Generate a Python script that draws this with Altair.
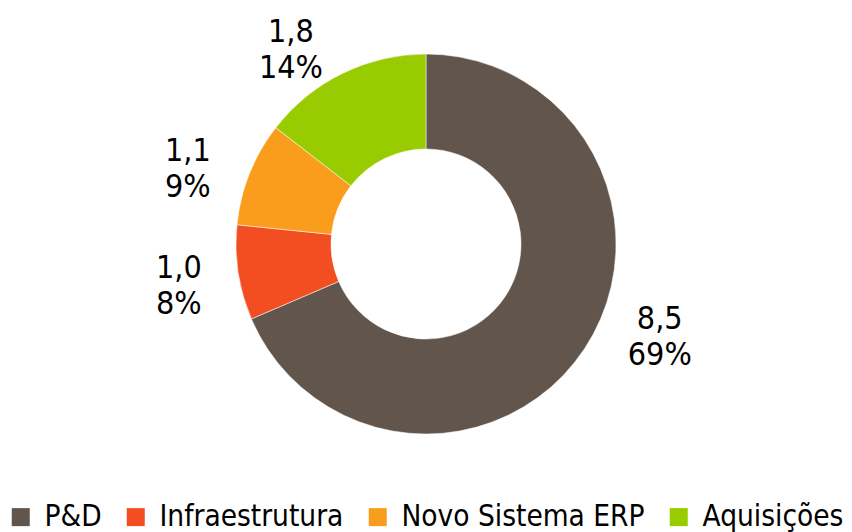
import altair as alt
import pandas as pd

categories = ["P&D", "Infraestrutura", "Novo Sistema ERP", "Aquisições"]
values = [8.5, 1.0, 1.1, 1.8]
value_labels = ["8,5", "1,0", "1,1", "1,8"]
pct_labels = ["69%", "8%", "9%", "14%"]
colors = ["#62564C", "#F24E22", "#FA9D1C", "#99CC00"]

df = pd.DataFrame({
    "cat": categories,
    "val": values,
    "ord": list(range(len(categories))),
    "label": [f"{v}\n{p}" for v, p in zip(value_labels, pct_labels)],
})

FONT = "DejaVu Sans Condensed"

base = alt.Chart(df).encode(
    theta=alt.Theta("val:Q", stack=True),
    order=alt.Order("ord:Q"),
)

arc = base.mark_arc(outerRadius=190, innerRadius=95, stroke="white", strokeWidth=0.5).encode(
    color=alt.Color(
        "cat:N",
        scale=alt.Scale(domain=categories, range=colors),
        sort=categories,
        legend=alt.Legend(
            title=None,
            orient="none",
            direction="horizontal",
            legendX=-2,
            legendY=494,
            symbolType="square",
            symbolSize=324,
            symbolStrokeWidth=0,
            labelFont=FONT,
            labelFontSize=29.5,
            labelLimit=0,
            labelColor="#000000",
            columnPadding=19,
            symbolOffset=0,
            labelOffset=9,
        ),
    ),
    x=alt.value(418),
    y=alt.value(236),
)

# label nudges (pixels) relative to the slice mid-angle position
nudges = {
    "P&D": (25, -63),
    "Infraestrutura": (0, -14),
    "Novo Sistema ERP": (-6, 0),
    "Aquisições": (-25, 12),
}

layers = [arc]
for cat, (ddx, ddy) in nudges.items():
    layers.append(
        base.mark_text(
            radius=250, font=FONT, fontSize=32, color="#000000", lineBreak="\n", lineHeight=36,
            align="center", baseline="middle", dx=ddx, dy=ddy,
        ).encode(
            text="label:N",
            x=alt.value(418),
            y=alt.value(236),
            opacity=alt.condition(alt.datum.cat == cat, alt.value(1), alt.value(0)),
        )
    )

chart = alt.layer(*layers).properties(
    width=836, height=524, autosize=alt.AutoSizeParams(type="none"), padding=0
).configure_view(stroke=None)

chart.save("out.html", embed_options={"renderer": "svg", "actions": False})
